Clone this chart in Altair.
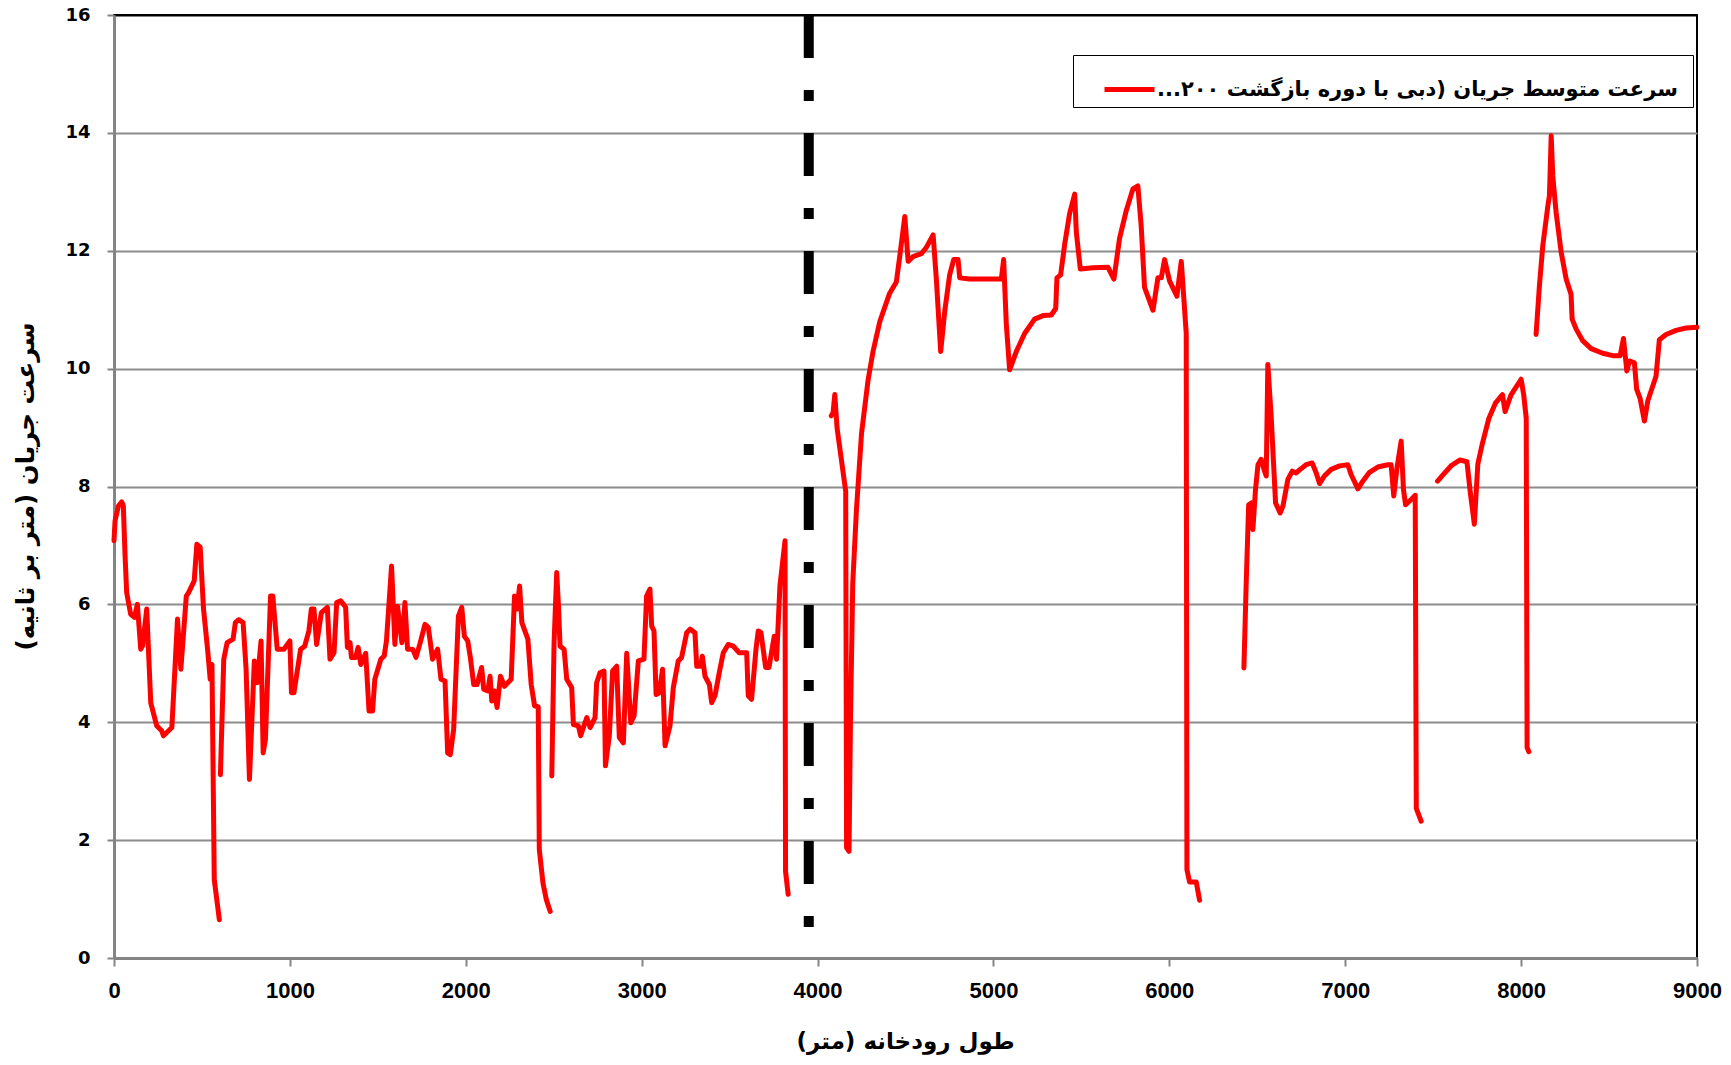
import altair as alt
import pandas as pd

# Mean flow velocity along the river, one list per continuous reach:
# (distance along the river [m], velocity [m/s])
reach_1 = [
    (0, 7.08), (6, 7.42), (25, 7.67), (44, 7.74), (53, 7.67), (63, 6.82), (72, 6.2),
    (95, 5.83), (116, 5.78), (133, 6.0), (152, 5.24), (163, 5.3), (186, 5.92),
    (209, 4.33), (243, 3.94), (272, 3.85), (281, 3.77), (329, 3.91), (361, 5.75),
    (380, 4.9), (411, 6.14), (424, 6.2), (456, 6.4), (471, 7.02), (490, 6.97),
    (509, 5.92), (532, 5.24), (547, 4.73), (557, 4.98), (570, 1.33), (599, 0.65),
]
reach_2 = [
    (605, 3.11), (624, 5.07), (643, 5.35), (677, 5.41), (690, 5.69), (709, 5.74),
    (734, 5.69), (751, 4.9), (770, 3.03), (798, 5.04), (814, 4.67), (836, 5.38),
    (848, 3.48), (861, 3.71), (890, 6.14), (903, 6.14), (928, 5.24), (966, 5.24),
    (1000, 5.38), (1009, 4.5), (1023, 4.5), (1061, 5.24), (1084, 5.29), (1108, 5.55),
    (1122, 5.92), (1137, 5.92), (1152, 5.32), (1179, 5.86), (1213, 5.95), (1228, 5.07),
    (1251, 5.18), (1266, 6.03), (1289, 6.06), (1317, 5.95), (1327, 5.27), (1342, 5.35),
    (1350, 5.1), (1374, 5.1), (1388, 5.27), (1403, 4.98), (1431, 5.17), (1450, 4.19),
    (1470, 4.19), (1483, 4.73), (1517, 5.07), (1536, 5.12), (1549, 5.38), (1578, 6.65),
    (1597, 5.32), (1612, 5.97), (1637, 5.35), (1654, 6.03), (1669, 5.24), (1698, 5.24),
    (1717, 5.1), (1741, 5.35), (1768, 5.66), (1787, 5.61), (1811, 5.07), (1840, 5.24),
    (1859, 4.73), (1882, 4.7), (1897, 3.48), (1912, 3.45), (1931, 3.88), (1958, 5.8),
    (1977, 5.95), (1992, 5.46), (2011, 5.38), (2026, 5.1), (2045, 4.64), (2064, 4.64),
    (2090, 4.93), (2102, 4.56), (2125, 4.53), (2138, 4.78), (2148, 4.36), (2163, 4.53),
    (2178, 4.25), (2197, 4.78), (2220, 4.61), (2258, 4.73), (2277, 6.14), (2292, 5.92),
    (2306, 6.31), (2319, 5.69), (2353, 5.41), (2372, 4.64), (2391, 4.28), (2412, 4.26),
    (2418, 1.84), (2439, 1.27), (2458, 0.99), (2480, 0.79),
]
reach_3 = [
    (2489, 3.09), (2502, 5.35), (2517, 6.54), (2527, 5.97), (2536, 5.29), (2559, 5.24),
    (2574, 4.73), (2602, 4.59), (2612, 3.96), (2640, 3.94), (2653, 3.77), (2688, 4.08),
    (2707, 3.91), (2735, 4.08), (2744, 4.67), (2763, 4.84), (2786, 4.87), (2794, 3.26),
    (2816, 3.77), (2835, 4.87), (2858, 4.95), (2873, 3.74), (2896, 3.65), (2915, 5.17),
    (2938, 3.99), (2957, 4.11), (2981, 5.04), (3013, 5.07), (3028, 6.14), (3047, 6.26),
    (3057, 5.63), (3070, 5.55), (3082, 4.47), (3100, 4.5), (3119, 4.9), (3133, 3.6),
    (3161, 3.94), (3180, 4.59), (3208, 5.04), (3227, 5.1), (3256, 5.52), (3275, 5.58),
    (3303, 5.52), (3313, 4.95), (3335, 4.95), (3345, 5.12), (3360, 4.78), (3385, 4.64),
    (3398, 4.33), (3417, 4.45), (3441, 4.84), (3464, 5.18), (3492, 5.32), (3521, 5.29),
    (3555, 5.18), (3597, 5.18), (3606, 4.45), (3625, 4.39), (3650, 5.24), (3663, 5.55),
    (3678, 5.52), (3705, 4.93), (3724, 4.93), (3743, 5.27), (3754, 5.46), (3767, 5.07),
    (3786, 6.31), (3815, 7.08), (3818, 1.47), (3833, 1.08),
]
reach_4 = [
    (4078, 9.2), (4088, 9.25), (4098, 9.56), (4111, 8.99), (4160, 7.92), (4165, 1.87),
    (4179, 1.81), (4187, 4.0), (4200, 6.35), (4221, 7.6), (4250, 8.9), (4287, 9.8),
    (4316, 10.3), (4354, 10.8), (4410, 11.28), (4448, 11.47), (4467, 11.9), (4496, 12.58),
    (4515, 11.82), (4543, 11.9), (4590, 11.95), (4619, 12.06), (4657, 12.27), (4676, 11.49),
    (4700, 10.29), (4723, 10.97), (4751, 11.59), (4774, 11.85), (4799, 11.85), (4808, 11.54),
    (4865, 11.52), (4941, 11.52), (5045, 11.52), (5058, 11.85), (5073, 10.76), (5092, 9.98),
    (5130, 10.29), (5178, 10.6), (5234, 10.84), (5282, 10.9), (5329, 10.91), (5354, 11.02),
    (5361, 11.54), (5382, 11.59), (5405, 12.11), (5433, 12.63), (5462, 12.96), (5471, 12.32),
    (5494, 11.69), (5566, 11.71), (5651, 11.72), (5685, 11.52), (5717, 12.21), (5755, 12.68),
    (5793, 13.05), (5821, 13.1), (5840, 12.42), (5859, 11.38), (5907, 10.99), (5935, 11.54),
    (5954, 11.54), (5973, 11.85), (6001, 11.49), (6043, 11.23), (6068, 11.82), (6096, 10.6),
    (6100, 1.5), (6115, 1.29), (6153, 1.29), (6172, 0.98),
]
reach_5 = [
    (6424, 4.92), (6437, 6.36), (6451, 7.69), (6466, 7.72), (6475, 7.27), (6490, 7.95),
    (6504, 8.37), (6522, 8.46), (6541, 8.26), (6551, 8.18), (6560, 10.07), (6579, 9.19),
    (6604, 7.72), (6630, 7.55), (6646, 7.67), (6674, 8.12), (6699, 8.26), (6721, 8.23),
    (6744, 8.29), (6778, 8.37), (6812, 8.4), (6835, 8.23), (6854, 8.05), (6882, 8.18),
    (6920, 8.29), (6968, 8.35), (7015, 8.37), (7034, 8.2), (7072, 7.96), (7100, 8.09),
    (7138, 8.24), (7185, 8.33), (7242, 8.37), (7261, 8.37), (7276, 7.84), (7293, 8.29),
    (7318, 8.77), (7331, 7.95), (7343, 7.69), (7375, 7.78), (7398, 7.85), (7404, 2.54),
    (7432, 2.32),
]
reach_6 = [
    (7525, 8.09), (7557, 8.2), (7605, 8.36), (7653, 8.45), (7692, 8.42), (7711, 7.9),
    (7734, 7.36), (7754, 8.38), (7779, 8.72), (7817, 9.16), (7855, 9.42), (7894, 9.56),
    (7909, 9.27), (7942, 9.55), (8000, 9.82), (8015, 9.55), (8029, 9.16), (8034, 3.57),
    (8044, 3.5),
]
reach_7 = [
    (8085, 10.58), (8104, 11.4), (8123, 12.08), (8152, 12.76), (8161, 12.93), (8171, 13.95),
    (8180, 13.27), (8199, 12.65), (8228, 11.97), (8256, 11.52), (8284, 11.26), (8290, 10.84),
    (8313, 10.67), (8351, 10.47), (8398, 10.34), (8464, 10.26), (8521, 10.22), (8563, 10.22),
    (8582, 10.51), (8601, 9.96), (8616, 10.13), (8644, 10.1), (8657, 9.65), (8676, 9.5),
    (8701, 9.11), (8720, 9.45), (8767, 9.87), (8786, 10.49), (8824, 10.58), (8881, 10.65),
    (8938, 10.69), (9000, 10.7),
]
reaches = [reach_1, reach_2, reach_3, reach_4, reach_5, reach_6, reach_7]

# Station of the dash-dot divider line [m]
divider_m = [3950]

x_ticks = [0, 1000, 2000, 3000, 4000, 5000, 6000, 7000, 8000, 9000]
y_ticks = [0, 2, 4, 6, 8, 10, 12, 14, 16]

SERIES = "سرعت متوسط جریان  (دبی با دوره بازگشت ۲۰۰...\u200f"
X_TITLE = "طول رودخانه (متر)"
Y_TITLE = "سرعت جریان  (متر بر ثانیه)"

rows = []
for i, reach in enumerate(reaches):
    for d, v in reach:
        rows.append({"distance": d, "velocity": v, "reach": i, "series": SERIES})
df = pd.DataFrame(rows)

divider_df = pd.DataFrame({"distance": divider_m, "velocity": [16] * len(divider_m),
                           "base": [0] * len(divider_m)})

PERSIAN_FONT = "DejaVu Sans"
AXIS_GRAY = "#858585"

x_axis = alt.Axis(
    values=x_ticks, format="d", title=X_TITLE, grid=False,
    domainColor=AXIS_GRAY, domainWidth=3, tickColor=AXIS_GRAY, tickWidth=2, tickSize=8,
    labelFont="Liberation Sans", labelFontSize=22, labelFontWeight="bold", labelColor="black",
    labelPadding=14, labelFlush=False, labelOverlap=False,
    titleFont=PERSIAN_FONT, titleFontSize=23, titleFontWeight="bold", titleColor="black",
    titleX=791, titleY=83, titleAlign="center", titleBaseline="middle",
)
y_axis = alt.Axis(
    values=y_ticks, format="d", title=Y_TITLE, grid=True,
    gridColor={"condition": {"test": "datum.value === 16", "value": "black"}, "value": "#8c8c8c"},
    gridWidth=2,
    domainColor=AXIS_GRAY, domainWidth=3, tickColor=AXIS_GRAY, tickWidth=2, tickSize=7,
    labelFont="DejaVu Sans", labelFontSize=18, labelFontWeight="bold", labelColor="black",
    labelPadding=17, labelFlush=False, labelOverlap=False,
    titleFont=PERSIAN_FONT, titleFontSize=24.5, titleFontWeight="bold", titleColor="black",
    titleX=-88, titleY=471, titleAngle=270, titleAlign="center", titleBaseline="middle",
)

x_enc = alt.X("distance:Q", scale=alt.Scale(domain=[0, 9000], nice=False, zero=False), axis=x_axis)
y_scale = alt.Scale(domain=[0, 16], nice=False)

divider = alt.Chart(divider_df).mark_rule(
    color="black", strokeWidth=10, strokeDash=[43, 32, 11, 32], strokeCap="butt"
).encode(
    x=x_enc,
    y=alt.Y("velocity:Q", scale=y_scale, axis=y_axis),
    y2="base:Q",
)

line = alt.Chart(df).mark_line(
    strokeWidth=5, strokeJoin="round", strokeCap="round"
).encode(
    x=x_enc,
    y=alt.Y("velocity:Q", scale=y_scale, axis=y_axis),
    detail="reach:N",
    color=alt.Color(
        "series:N",
        scale=alt.Scale(range=["#ff0000"]),
        legend=alt.Legend(
            title=None, orient="none", legendX=959, legendY=40,
            symbolType="stroke", symbolSize=2500, symbolStrokeWidth=5,
            symbolStrokeColor="#ff0000", symbolOffset=22,
            labelFont=PERSIAN_FONT, labelFontSize=21, labelFontWeight="bold",
            labelColor="black", labelLimit=0, labelOffset=0,
            padding=7, strokeColor="black", fillColor="white",
        ),
    ),
)

chart = alt.layer(divider, line).properties(
    width=1583, height=943,
    padding={"left": 114, "top": 15, "right": 34, "bottom": 107},
    autosize=alt.AutoSizeParams(type="none"),
    background="white",
).configure_view(stroke="black", strokeWidth=2)

chart.save("out.html", embed_options={"renderer": "svg", "actions": False})
